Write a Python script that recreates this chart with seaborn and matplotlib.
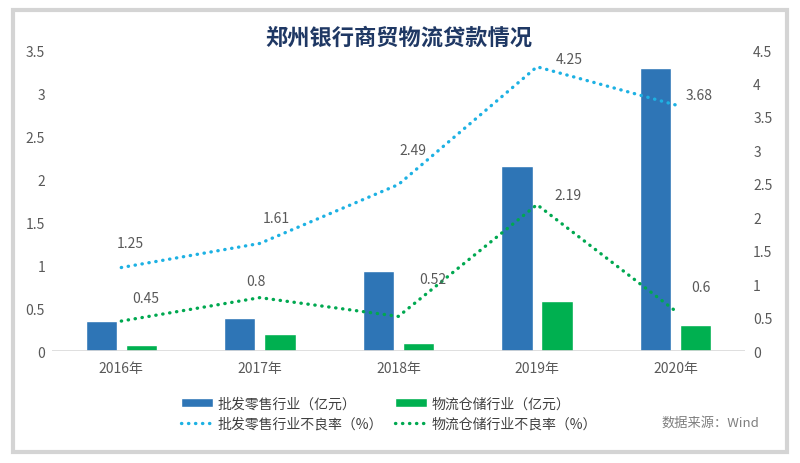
import numpy as np
import pandas as pd
import matplotlib
matplotlib.use('Agg')
import matplotlib.pyplot as plt
from matplotlib.patches import Rectangle, Patch
from matplotlib.lines import Line2D
from matplotlib.ticker import FuncFormatter
import seaborn as sns

# ========== data ==========
years = ['2016年', '2017年', '2018年', '2019年', '2020年']
wholesale_loan = [0.35, 0.38, 0.93, 2.15, 3.29]     # 批发零售行业（亿元）
logistics_loan = [0.07, 0.20, 0.10, 0.58, 0.31]     # 物流仓储行业（亿元）
wholesale_npl = [1.25, 1.61, 2.49, 4.25, 3.68]      # 批发零售行业不良率（%）
logistics_npl = [0.45, 0.80, 0.52, 2.19, 0.60]      # 物流仓储行业不良率（%）

bar_names = ['批发零售行业（亿元）', '物流仓储行业（亿元）']
line_names = ['批发零售行业不良率（%）', '物流仓储行业不良率（%）']

# label offsets in pixels (dx, dy), hand placed like the excel chart
wholesale_off = [(9, 25), (16, 25), (15, 35), (32, 8), (24, 10)]
logistics_off = [(24, 23), (-4, 17), (34, 37), (31, 10), (25, 24)]

c_blue_bar = '#2E75B6'
c_green_bar = '#00B050'
c_blue_line = '#1DB1E3'
c_green_line = '#00A850'
grey = '#595959'

sns.set_style('white')
plt.rcParams['font.family'] = ['Noto Sans CJK SC', 'DejaVu Sans']

fig = plt.figure(figsize=(8, 4.64), dpi=100)

# card background with soft grey frame
card = Rectangle((0.016, 0.024), 0.968, 0.953, transform=fig.transFigure,
                 facecolor='white', edgecolor='#D4D4D4', linewidth=3, zorder=-5)
fig.add_artist(card)

ax = fig.add_axes([0.065, 0.241, 0.866, 0.649])
ax.patch.set_alpha(0)

df_bar = pd.DataFrame({
    'year': years * 2,
    'value': wholesale_loan + logistics_loan,
    'series': [bar_names[0]] * len(years) + [bar_names[1]] * len(years),
})
sns.barplot(data=df_bar, x='year', y='value', hue='series', order=years,
            hue_order=bar_names, palette=[c_blue_bar, c_green_bar],
            width=0.58, gap=0.22, saturation=1, legend=False, ax=ax)

ax.set_xlim(-0.5, 4.5)
ax.set_ylim(0, 3.5)
ax.set_yticks(np.arange(0, 3.51, 0.5))
ax.yaxis.set_major_formatter(FuncFormatter(lambda v, p: f'{v:g}'))
ax.set_xlabel('')
ax.set_ylabel('')
for s in ax.spines.values():
    s.set_visible(False)
ax.axhline(0, color='#D9D9D9', lw=1.2, zorder=1)
ax.tick_params(axis='both', length=0, colors=grey, labelsize=10)
ax.tick_params(axis='x', pad=7)
ax.tick_params(axis='y', pad=5)

# right axis: rates
ax2 = ax.twinx()
ax2.patch.set_alpha(0)
xs = np.arange(len(years))
sns.lineplot(x=xs, y=wholesale_npl, ax=ax2, color=c_blue_line, lw=2.4)
sns.lineplot(x=xs, y=logistics_npl, ax=ax2, color=c_green_line, lw=2.4)
for ln in ax2.lines:
    ln.set_dashes((0.1, 2.0))
    ln.set_dash_capstyle('round')
ax2.set_ylim(0, 4.5)
ax2.set_yticks(np.arange(0, 4.51, 0.5))
ax2.yaxis.set_major_formatter(FuncFormatter(lambda v, p: f'{v:g}'))
ax2.tick_params(axis='y', length=0, colors=grey, labelsize=10, pad=6)
for s in ax2.spines.values():
    s.set_visible(False)
ax2.set_xlim(-0.5, 4.5)

for vals, offs in [(wholesale_npl, wholesale_off), (logistics_npl, logistics_off)]:
    for i, v in enumerate(vals):
        dx, dy = offs[i]
        ax2.annotate(f'{v:g}', (i, v), xytext=(dx * 0.72, dy * 0.72),
                     textcoords='offset points', ha='center', va='center',
                     fontsize=10, color=grey)

fig.text(0.498, 0.918, '郑州银行商贸物流贷款情况', ha='center', va='center',
         fontsize=16, fontweight='bold', color='#1F3864')

handles = [Patch(facecolor=c_blue_bar),
           Line2D([], [], color=c_blue_line, lw=2.4, dashes=(0.1, 2.0), dash_capstyle='round'),
           Patch(facecolor=c_green_bar),
           Line2D([], [], color=c_green_line, lw=2.4, dashes=(0.1, 2.0), dash_capstyle='round')]
labels = [bar_names[0], line_names[0], bar_names[1], line_names[1]]
fig.legend(handles, labels, ncol=2, loc='center', bbox_to_anchor=(0.486, 0.106),
           frameon=False, fontsize=10, labelcolor='#404040', handlelength=2.3,
           handleheight=0.65, columnspacing=0.9, handletextpad=0.3, labelspacing=0.45)

fig.text(0.888, 0.088, '数据来源：Wind', ha='center', va='center', fontsize=9.5, color='#7F7F7F')

plt.savefig('out.png', dpi=100)
plt.close()
